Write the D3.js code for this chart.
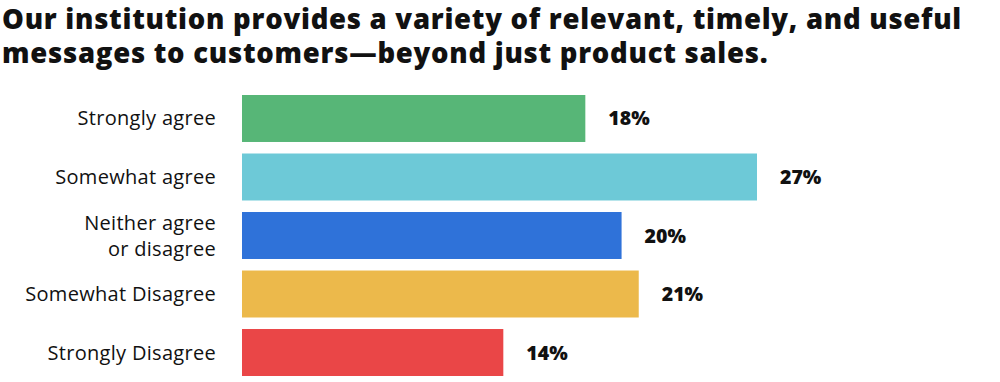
<!DOCTYPE html>
<html>
<head>
<meta charset="utf-8">
<script src="https://cdn.jsdelivr.net/npm/d3@7"></script>
<style>
  html, body { margin: 0; padding: 0; background: #fff; }
  svg { display: block; }
  text { font-family: "Open Sans", Lato, sans-serif; fill: #111; }
</style>
</head>
<body>
<svg id="chart" width="1000" height="382"></svg>
<script>
const titleLines = [
  "Our institution provides a variety of relevant, timely, and useful",
  "messages to customers\u2014beyond just product sales."
];
const categories = [
  ["Strongly agree"],
  ["Somewhat agree"],
  ["Neither agree", "or disagree"],
  ["Somewhat Disagree"],
  ["Strongly Disagree"]
];
const values = [18.0, 27.0, 19.9, 20.8, 13.7];
const valueLabels = ["18%", "27%", "20%", "21%", "14%"];
const colors = ["#57b677", "#6dc9d7", "#2f72d9", "#ecb94b", "#ea4647"];

const svg = d3.select("#chart");

// Title
const tfs = 27.5;
const t1 = svg.append("text").attr("x", 2).attr("y", 29)
  .attr("font-weight", 800).attr("font-size", tfs).text(titleLines[0]);
const t2 = svg.append("text").attr("x", 2).attr("y", 63)
  .attr("font-weight", 800).attr("font-size", tfs).text(titleLines[1]);
const n1 = titleLines[0].length;
const ls = (960 - t1.node().getComputedTextLength()) / n1;
t1.attr("letter-spacing", ls);
t2.attr("letter-spacing", ls);

const idx = d3.range(values.length);
const x = d3.scaleLinear().domain([0, 27]).range([242, 757]);
const y = d3.scaleBand().domain(idx).range([95, 376]).paddingInner(0.197).paddingOuter(0);

svg.append("g").selectAll("rect").data(idx).join("rect")
  .attr("x", x(0))
  .attr("y", i => y(i))
  .attr("width", i => x(values[i]) - x(0))
  .attr("height", y.bandwidth())
  .attr("fill", i => colors[i]);

// category labels
const lab = svg.append("g").selectAll("text").data(idx).join("text")
  .attr("text-anchor", "end")
  .attr("font-size", 20)
  .attr("letter-spacing", 0.3)
  .attr("fill", "#111");
lab.each(function(i) {
  const lines = categories[i];
  const cy = y(i) + y.bandwidth() / 2;
  const lh = 26;
  const t = d3.select(this);
  lines.forEach((ln, k) => {
    t.append("tspan")
      .attr("x", 216)
      .attr("y", cy + 7 + (k - (lines.length - 1) / 2) * lh)
      .text(ln);
  });
});

// value labels
svg.append("g").selectAll("text").data(idx).join("text")
  .attr("x", i => x(values[i]) + 23)
  .attr("y", i => y(i) + y.bandwidth() / 2 + 7)
  .attr("font-size", 19.5)
  .attr("font-weight", 800)
  .text(i => valueLabels[i]);
</script>
</body>
</html>
